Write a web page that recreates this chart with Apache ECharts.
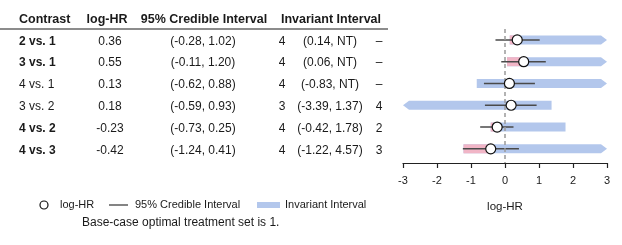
<!DOCTYPE html>
<html>
<head>
<meta charset="utf-8">
<script src="https://cdn.jsdelivr.net/npm/echarts@6/dist/echarts.min.js"></script>
<style>
  html, body { margin: 0; padding: 0; background: #fff; }
  #chart { width: 622px; height: 245px; }
</style>
</head>
<body>
<div id="chart"></div>
<script>
// rows of the table / forest plot
const contrasts = ['2 vs. 1', '3 vs. 1', '4 vs. 1', '3 vs. 2', '4 vs. 2', '4 vs. 3'];
const boldRows = [true, true, false, false, true, true];
const logHR = [0.36, 0.55, 0.13, 0.18, -0.23, -0.42];
const credLow = [-0.28, -0.11, -0.62, -0.59, -0.73, -1.24];
const credHigh = [1.02, 1.20, 0.88, 0.93, 0.25, 0.41];
const invRank = ['4', '4', '4', '3', '4', '4'];
const invLow = [0.14, 0.06, -0.83, -3.39, -0.42, -1.22];
const invHigh = [null, null, null, 1.37, 1.78, 4.57]; // null = NT
const invNext = ['–', '–', '–', '4', '2', '3'];

const X_MIN = -3, X_MAX = 3, X_STEP = 1;
const FONT = '"Liberation Sans", Arial, sans-serif';
const TEXT = '#1a1a1a';

const fmt = (v) => v.toFixed(2);
const invText = (i) => `(${fmt(invLow[i])}, ${invHigh[i] == null ? 'NT' : fmt(invHigh[i])})`;

// table columns: x position in table grid + alignment
const columns = [
  { x: 19, align: 'left', text: (i) => contrasts[i], bold: (i) => boldRows[i] },
  { x: 110, align: 'center', text: (i) => fmt(logHR[i]) },
  { x: 203, align: 'center', text: (i) => `(${fmt(credLow[i])}, ${fmt(credHigh[i])})` },
  { x: 282, align: 'center', text: (i) => invRank[i] },
  { x: 330, align: 'center', text: invText },
  { x: 379, align: 'center', text: (i) => invNext[i] },
];

const rows = contrasts.map((_, i) => i);

const chart = echarts.init(document.getElementById('chart'), null, { renderer: 'canvas' });

const tableItem = (params, api) => {
  const i = params.dataIndex;
  const y = api.coord([0, i])[1] + 1.5;
  return {
    type: 'group',
    children: columns.map((c) => ({
      type: 'text',
      style: {
        x: api.coord([c.x, i])[0],
        y,
        text: c.text(i),
        align: c.align,
        verticalAlign: 'middle',
        fill: TEXT,
        font: `${c.bold && c.bold(i) ? 'bold ' : ''}12px ${FONT}`,
      },
    })),
  };
};

const invariantItem = (params, api) => {
  const i = params.dataIndex;
  const lo = invLow[i];
  const hi = invHigh[i] == null ? Infinity : invHigh[i];
  const leftArrow = lo < X_MIN;
  const rightArrow = hi > X_MAX;
  const x0 = api.coord([Math.max(lo, X_MIN), i])[0];
  const x1 = api.coord([Math.min(hi, X_MAX), i])[0];
  const y = api.coord([0, i])[1];
  const h = 4.5, a = 6;
  const pts = [];
  if (leftArrow) pts.push([x0, y], [x0 + a, y - h]); else pts.push([x0, y - h]);
  if (rightArrow) pts.push([x1 - a, y - h], [x1, y], [x1 - a, y + h]); else pts.push([x1, y - h], [x1, y + h]);
  if (leftArrow) pts.push([x0 + a, y + h]); else pts.push([x0, y + h]);
  return { type: 'polygon', shape: { points: pts }, style: { fill: '#b3c7ec' } };
};

const pinkItem = (params, api) => {
  const i = params.dataIndex;
  if (!(invLow[i] > credLow[i])) return null;
  const x0 = api.coord([invLow[i], i])[0];
  const x1 = api.coord([logHR[i], i])[0];
  const y = api.coord([0, i])[1];
  return { type: 'rect', shape: { x: x0, y: y - 4.5, width: x1 - x0, height: 9 }, style: { fill: '#f1b5c6' } };
};

const credItem = (params, api) => {
  const i = params.dataIndex;
  const p0 = api.coord([credLow[i], i]);
  const p1 = api.coord([credHigh[i], i]);
  return {
    type: 'line',
    shape: { x1: p0[0], y1: p0[1], x2: p1[0], y2: p1[1] },
    style: { stroke: '#4a4a4a', lineWidth: 1.5 },
  };
};

const legendY = 205;

chart.setOption({
  animation: false,
  textStyle: { fontFamily: FONT },
  grid: [
    { left: 0, top: 29, width: 400, bottom: 82 },
    { left: 403, top: 29, right: 15, bottom: 82 },
  ],
  xAxis: [
    { gridIndex: 0, type: 'value', min: 0, max: 400, show: false },
    {
      gridIndex: 1,
      type: 'value',
      min: X_MIN,
      max: X_MAX,
      interval: X_STEP,
      name: 'log-HR',
      nameLocation: 'middle',
      nameGap: 38,
      nameTextStyle: { color: TEXT, fontSize: 11.5 },
      axisLine: { onZero: false, lineStyle: { color: '#222', width: 1.2 } },
      axisTick: { length: 5, lineStyle: { color: '#222', width: 1.2 } },
      axisLabel: { color: TEXT, fontSize: 11, margin: 12 },
      splitLine: { show: false },
    },
  ],
  yAxis: [
    { gridIndex: 0, type: 'value', inverse: true, min: -0.5, max: 5.65, show: false },
    { gridIndex: 1, type: 'value', inverse: true, min: -0.5, max: 5.65, show: false },
  ],
  series: [
    {
      type: 'custom',
      xAxisIndex: 0,
      yAxisIndex: 0,
      data: rows,
      renderItem: tableItem,
      silent: true,
    },
    {
      name: 'Invariant Interval',
      type: 'custom',
      xAxisIndex: 1,
      yAxisIndex: 1,
      data: rows,
      renderItem: invariantItem,
      markLine: {
        silent: true,
        symbol: 'none',
        label: { show: false },
        lineStyle: { color: '#9a9a9a', type: [4, 3], width: 1.5 },
        data: [{ xAxis: 0 }],
      },
    },
    {
      type: 'custom',
      xAxisIndex: 1,
      yAxisIndex: 1,
      data: rows,
      renderItem: pinkItem,
    },
    {
      name: '95% Credible Interval',
      type: 'custom',
      xAxisIndex: 1,
      yAxisIndex: 1,
      data: rows,
      renderItem: credItem,
    },
    {
      name: 'log-HR',
      type: 'scatter',
      xAxisIndex: 1,
      yAxisIndex: 1,
      data: rows.map((i) => [logHR[i], i]),
      symbol: 'circle',
      symbolSize: 10,
      itemStyle: { color: '#fff', borderColor: '#111', borderWidth: 1.2, opacity: 1 },
      z: 5,
    },
  ],
  graphic: [
    // table header
    { type: 'text', left: 19, top: 13, style: { text: 'Contrast', font: `bold 12.5px ${FONT}`, fill: TEXT } },
    { type: 'text', x: 107, y: 20, style: { text: 'log-HR', font: `bold 12.5px ${FONT}`, fill: TEXT, align: 'center', verticalAlign: 'middle' } },
    { type: 'text', x: 204, y: 20, style: { text: '95% Credible Interval', font: `bold 12.5px ${FONT}`, fill: TEXT, align: 'center', verticalAlign: 'middle' } },
    { type: 'text', x: 331, y: 20, style: { text: 'Invariant Interval', font: `bold 12.5px ${FONT}`, fill: TEXT, align: 'center', verticalAlign: 'middle' } },
    { type: 'line', shape: { x1: 0, y1: 29, x2: 388, y2: 29 }, style: { stroke: '#666', lineWidth: 1.5 } },
    // legend
    { type: 'circle', shape: { cx: 44, cy: legendY, r: 4 }, style: { fill: '#fff', stroke: '#111', lineWidth: 1.2 } },
    { type: 'text', x: 60, y: legendY, style: { text: 'log-HR', font: `11px ${FONT}`, fill: TEXT, verticalAlign: 'middle' } },
    { type: 'line', shape: { x1: 109, y1: legendY, x2: 128, y2: legendY }, style: { stroke: '#333', lineWidth: 1.2 } },
    { type: 'text', x: 135, y: legendY, style: { text: '95% Credible Interval', font: `11px ${FONT}`, fill: TEXT, verticalAlign: 'middle' } },
    { type: 'rect', shape: { x: 257, y: legendY - 3, width: 23, height: 6 }, style: { fill: '#b3c7ec' } },
    { type: 'text', x: 285, y: legendY, style: { text: 'Invariant Interval', font: `11px ${FONT}`, fill: TEXT, verticalAlign: 'middle' } },
    // footer
    { type: 'text', x: 82, y: 223, style: { text: 'Base-case optimal treatment set is 1.', font: `12px ${FONT}`, fill: TEXT, verticalAlign: 'middle' } },
  ],
});
</script>
</body>
</html>
